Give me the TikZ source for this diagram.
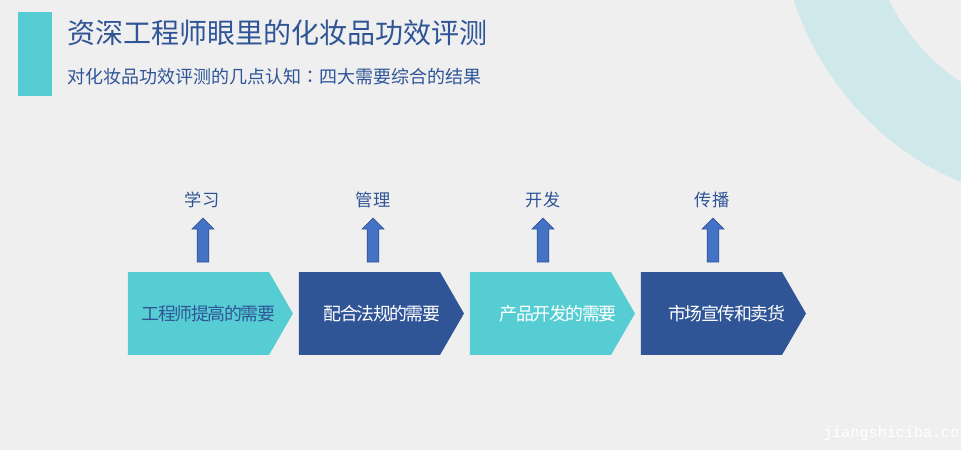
\documentclass[tikz,border=0pt]{standalone}
\usepackage{fontspec}
\usepackage{tikz}
\usetikzlibrary{shapes.symbols,shapes.arrows}
\setmainfont{Noto Sans CJK SC}
\newfontfamily\tightfont[LetterSpace=-8]{Noto Sans CJK SC}
\newfontfamily\colonfont{Noto Sans CJK TC}
\newcommand{\boxtext}[2]{\makebox[0pt]{\hspace{#1}#2}}
\definecolor{bgc}{HTML}{EFEFEF}
\definecolor{ringc}{HTML}{CEE8EB}
\definecolor{tealc}{HTML}{56CDD3}
\definecolor{navyc}{HTML}{2F5597}
\definecolor{arrowc}{HTML}{4472C4}
\tikzset{
  box/.style={signal, signal to=east, signal from=nowhere, signal pointer angle=120,
    minimum width=3.3cm, minimum height=1.66cm, inner sep=0pt, font=\tightfont\fontsize{10.2pt}{12pt}\selectfont},
  tealbox/.style={box, fill=tealc},
  navybox/.style={box, fill=navyc, text=white},
  uparrow/.style={single arrow, shape border rotate=90, fill=arrowc, draw=navyc, line width=0.4pt,
    minimum height=0.88cm, minimum width=0.44cm, single arrow head extend=0.1cm, single arrow tip angle=90, inner sep=0.105cm},
  toplabel/.style={text=navyc, font=\fontsize{9.8pt}{12pt}\selectfont, inner sep=0pt}
}

\begin{document}
\begin{tikzpicture}[x=0.02cm, y=-0.02cm]

\useasboundingbox (0, 0) rectangle (961, 450);
\fill[bgc] (0, 0) rectangle (961, 450);

\begin{scope}
\clip (0, 0) rectangle (961, 450);
\fill[ringc, even odd rule] (1075, -90) circle[radius=295] circle[radius=206.5];
\end{scope}

\fill[tealc] (18, 12) rectangle (52, 96);

\node[anchor=west, inner sep=0pt, text=navyc, font=\fontsize{15.95pt}{18pt}\selectfont] (title) at (67, 33) {资深工程师眼里的化妆品功效评测};
\node[anchor=west, inner sep=0pt, text=navyc, font=\fontsize{10.24pt}{12pt}\selectfont] (subtitle) at (67, 77) {对化妆品功效评测的几点认知{\colonfont ：}四大需要综合的结果};

\node[tealbox, text=navyc] (need1) at (198.5, 313.5) {\boxtext{11.4pt}{工程师提高的需要}};
\node[navybox] (need2) at (369.5, 313.5) {\boxtext{14.2pt}{配合法规的需要}};
\node[tealbox, text=white] (need3) at (540.5, 313.5) {\boxtext{19.9pt}{产品开发的需要}};
\node[navybox] (need4) at (711.5, 313.5) {\boxtext{17.1pt}{市场宣传和卖货}};

\node[uparrow] (up1) at (203, 243) {};
\node[uparrow] (up2) at (373, 243) {};
\node[uparrow] (up3) at (543, 243) {};
\node[uparrow] (up4) at (713, 243) {};

\node[toplabel] (learn) at (202, 200) {学习};
\node[toplabel] (manage) at (373, 200) {管理};
\node[toplabel] (develop) at (543, 200) {开发};
\node[toplabel] (spread) at (712, 200) {传播};

\node[anchor=west, inner sep=0pt, text=white, font=\fontspec{Liberation Mono}\fontsize{8.6pt}{10pt}\selectfont] (mark) at (823, 434) {jiangshiciba.co};

\end{tikzpicture}
\end{document}
